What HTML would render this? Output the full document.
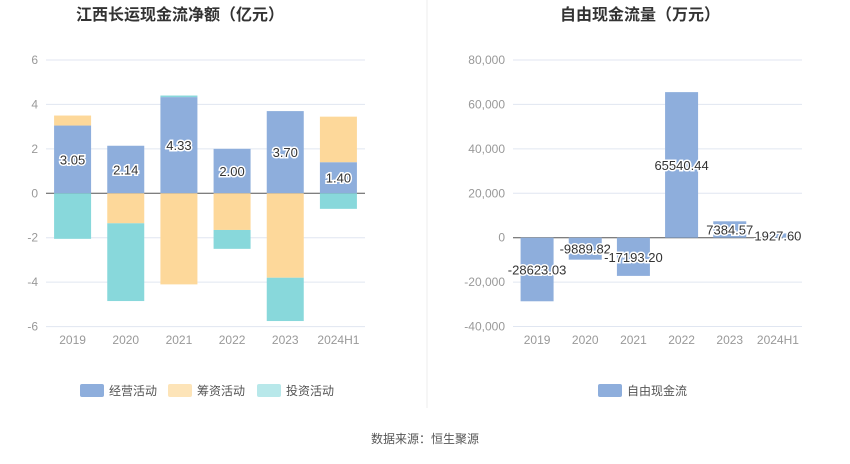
<!DOCTYPE html>
<html><head><meta charset="utf-8"><style>
body{margin:0;background:#fff;font-family:"Liberation Sans","Noto Sans CJK SC",sans-serif}
svg text{font-family:"Liberation Sans","Noto Sans CJK SC",sans-serif}
</style></head><body>
<svg id="s" width="850" height="459" xmlns="http://www.w3.org/2000/svg">
<text x="180" y="20" text-anchor="middle" font-size="16" font-weight="bold" fill="#333">江西长运现金流净额（亿元）</text>
<text x="640" y="20" text-anchor="middle" font-size="16" font-weight="bold" fill="#333">自由现金流量（万元）</text>
<line x1="427" y1="0" x2="427" y2="408" stroke="#eee"/>
<g id="L"></g><g id="R"></g>
<g>
<rect x="80" y="384" width="24" height="13" rx="2" fill="#8eaedc"/><text x="109" y="395" font-size="12" fill="#555">经营活动</text>
<rect x="168" y="384" width="24" height="13" rx="2" fill="#fde4b8"/><text x="197" y="395" font-size="12" fill="#555">筹资活动</text>
<rect x="257" y="384" width="24" height="13" rx="2" fill="#b8e8ea"/><text x="286" y="395" font-size="12" fill="#555">投资活动</text>
</g>
<g>
<rect x="598" y="384" width="24" height="13" rx="2" fill="#8eaedc"/><text x="627" y="395" font-size="12" fill="#555">自由现金流</text>
</g>
<text x="425" y="443" text-anchor="middle" font-size="12" fill="#555">数据来源：恒生聚源</text>
</svg>
<script>
const categories=["2019","2020","2021","2022","2023","2024H1"];
const operating=[3.05,2.14,4.33,2.00,3.70,1.40];
const financing=[0.45,-1.35,-4.1,-1.65,-3.8,2.05];
const investing=[-2.05,-3.5,0.07,-0.85,-1.95,-0.7];
const leftTicks=[6,4,2,0,-2,-4,-6];
const fcf=[-28623.03,-9889.82,-17193.20,65540.44,7384.57,1927.60];
const fcfLabels=["-28623.03","-9889.82","-17193.20","65540.44","7384.57","1927.60"];
const rightTicks=[80000,60000,40000,20000,0,-20000,-40000];
const NS="http://www.w3.org/2000/svg";
function mk(p,t,a){const e=document.createElementNS(NS,t);for(const k in a)e.setAttribute(k,a[k]);p.appendChild(e);return e;}
// left
const L=document.getElementById('L');
const ly=v=>193.3-v*(133.3/6);
const lx0=46,lx1=365,lbw=(lx1-lx0)/categories.length;
leftTicks.forEach(t=>{
 const g=mk(L,'line',{x1:lx0,x2:lx1,y1:ly(t),y2:ly(t),stroke:t===0?'#555':'#e0e6f1'});
 
 
 const tx=mk(L,'text',{x:38,y:ly(t)+4,'text-anchor':'end','font-size':12,fill:'#999'});tx.textContent=t;
 
 
});
categories.forEach((c,i)=>{
 const cx=lx0+lbw*(i+0.5),x=cx-18.5;
 let pos=0,neg=0;
 [[operating,'#8eaedc','operating'],[financing,'#fdd89a','financing'],[investing,'#88d8db','investing']].forEach(([arr,col,nm])=>{
  const v=arr[i];let a,b;
  if(v>=0){a=pos;b=pos+v;pos=b;}else{a=neg;b=neg+v;neg=b;}
  const r=mk(L,'rect',{x:x,width:37,y:Math.min(ly(a),ly(b)),height:Math.abs(ly(a)-ly(b)),fill:col});
  
  
 });
 const t=mk(L,'text',{x:cx,y:ly(operating[i]/2)+5,'text-anchor':'middle','font-size':13,fill:'#333',stroke:'#fff','stroke-width':3,'paint-order':'stroke'});
 t.textContent=operating[i].toFixed(2);
 
 
 const xl=mk(L,'text',{x:cx,y:344,'text-anchor':'middle','font-size':12,fill:'#999'});xl.textContent=c;
 
 
});
// right
const R=document.getElementById('R');
const ry=v=>237.7-v*(177.7/80000);
const rx0=513,rx1=802,rbw=(rx1-rx0)/categories.length;
rightTicks.forEach(t=>{
 const g=mk(R,'line',{x1:rx0,x2:rx1,y1:ry(t),y2:ry(t),stroke:t===0?'#555':'#e0e6f1'});
 
 
 const tx=mk(R,'text',{x:505,y:ry(t)+4,'text-anchor':'end','font-size':12,fill:'#999'});tx.textContent=t.toLocaleString('en-US');
 
 
});
categories.forEach((c,i)=>{
 const cx=rx0+rbw*(i+0.5),v=fcf[i];
 const r=mk(R,'rect',{x:cx-16.5,width:33,y:Math.min(ry(0),ry(v)),height:Math.abs(ry(0)-ry(v)),fill:'#8eaedc'});
 
 
 const t=mk(R,'text',{x:cx,y:ry(v/2)+5,'text-anchor':'middle','font-size':13,fill:'#333',stroke:'#fff','stroke-width':3,'paint-order':'stroke'});
 t.textContent=fcfLabels[i];
 
 
 const xl=mk(R,'text',{x:cx,y:344,'text-anchor':'middle','font-size':12,fill:'#999'});xl.textContent=c;
 
 
});
</script>
</body></html>
